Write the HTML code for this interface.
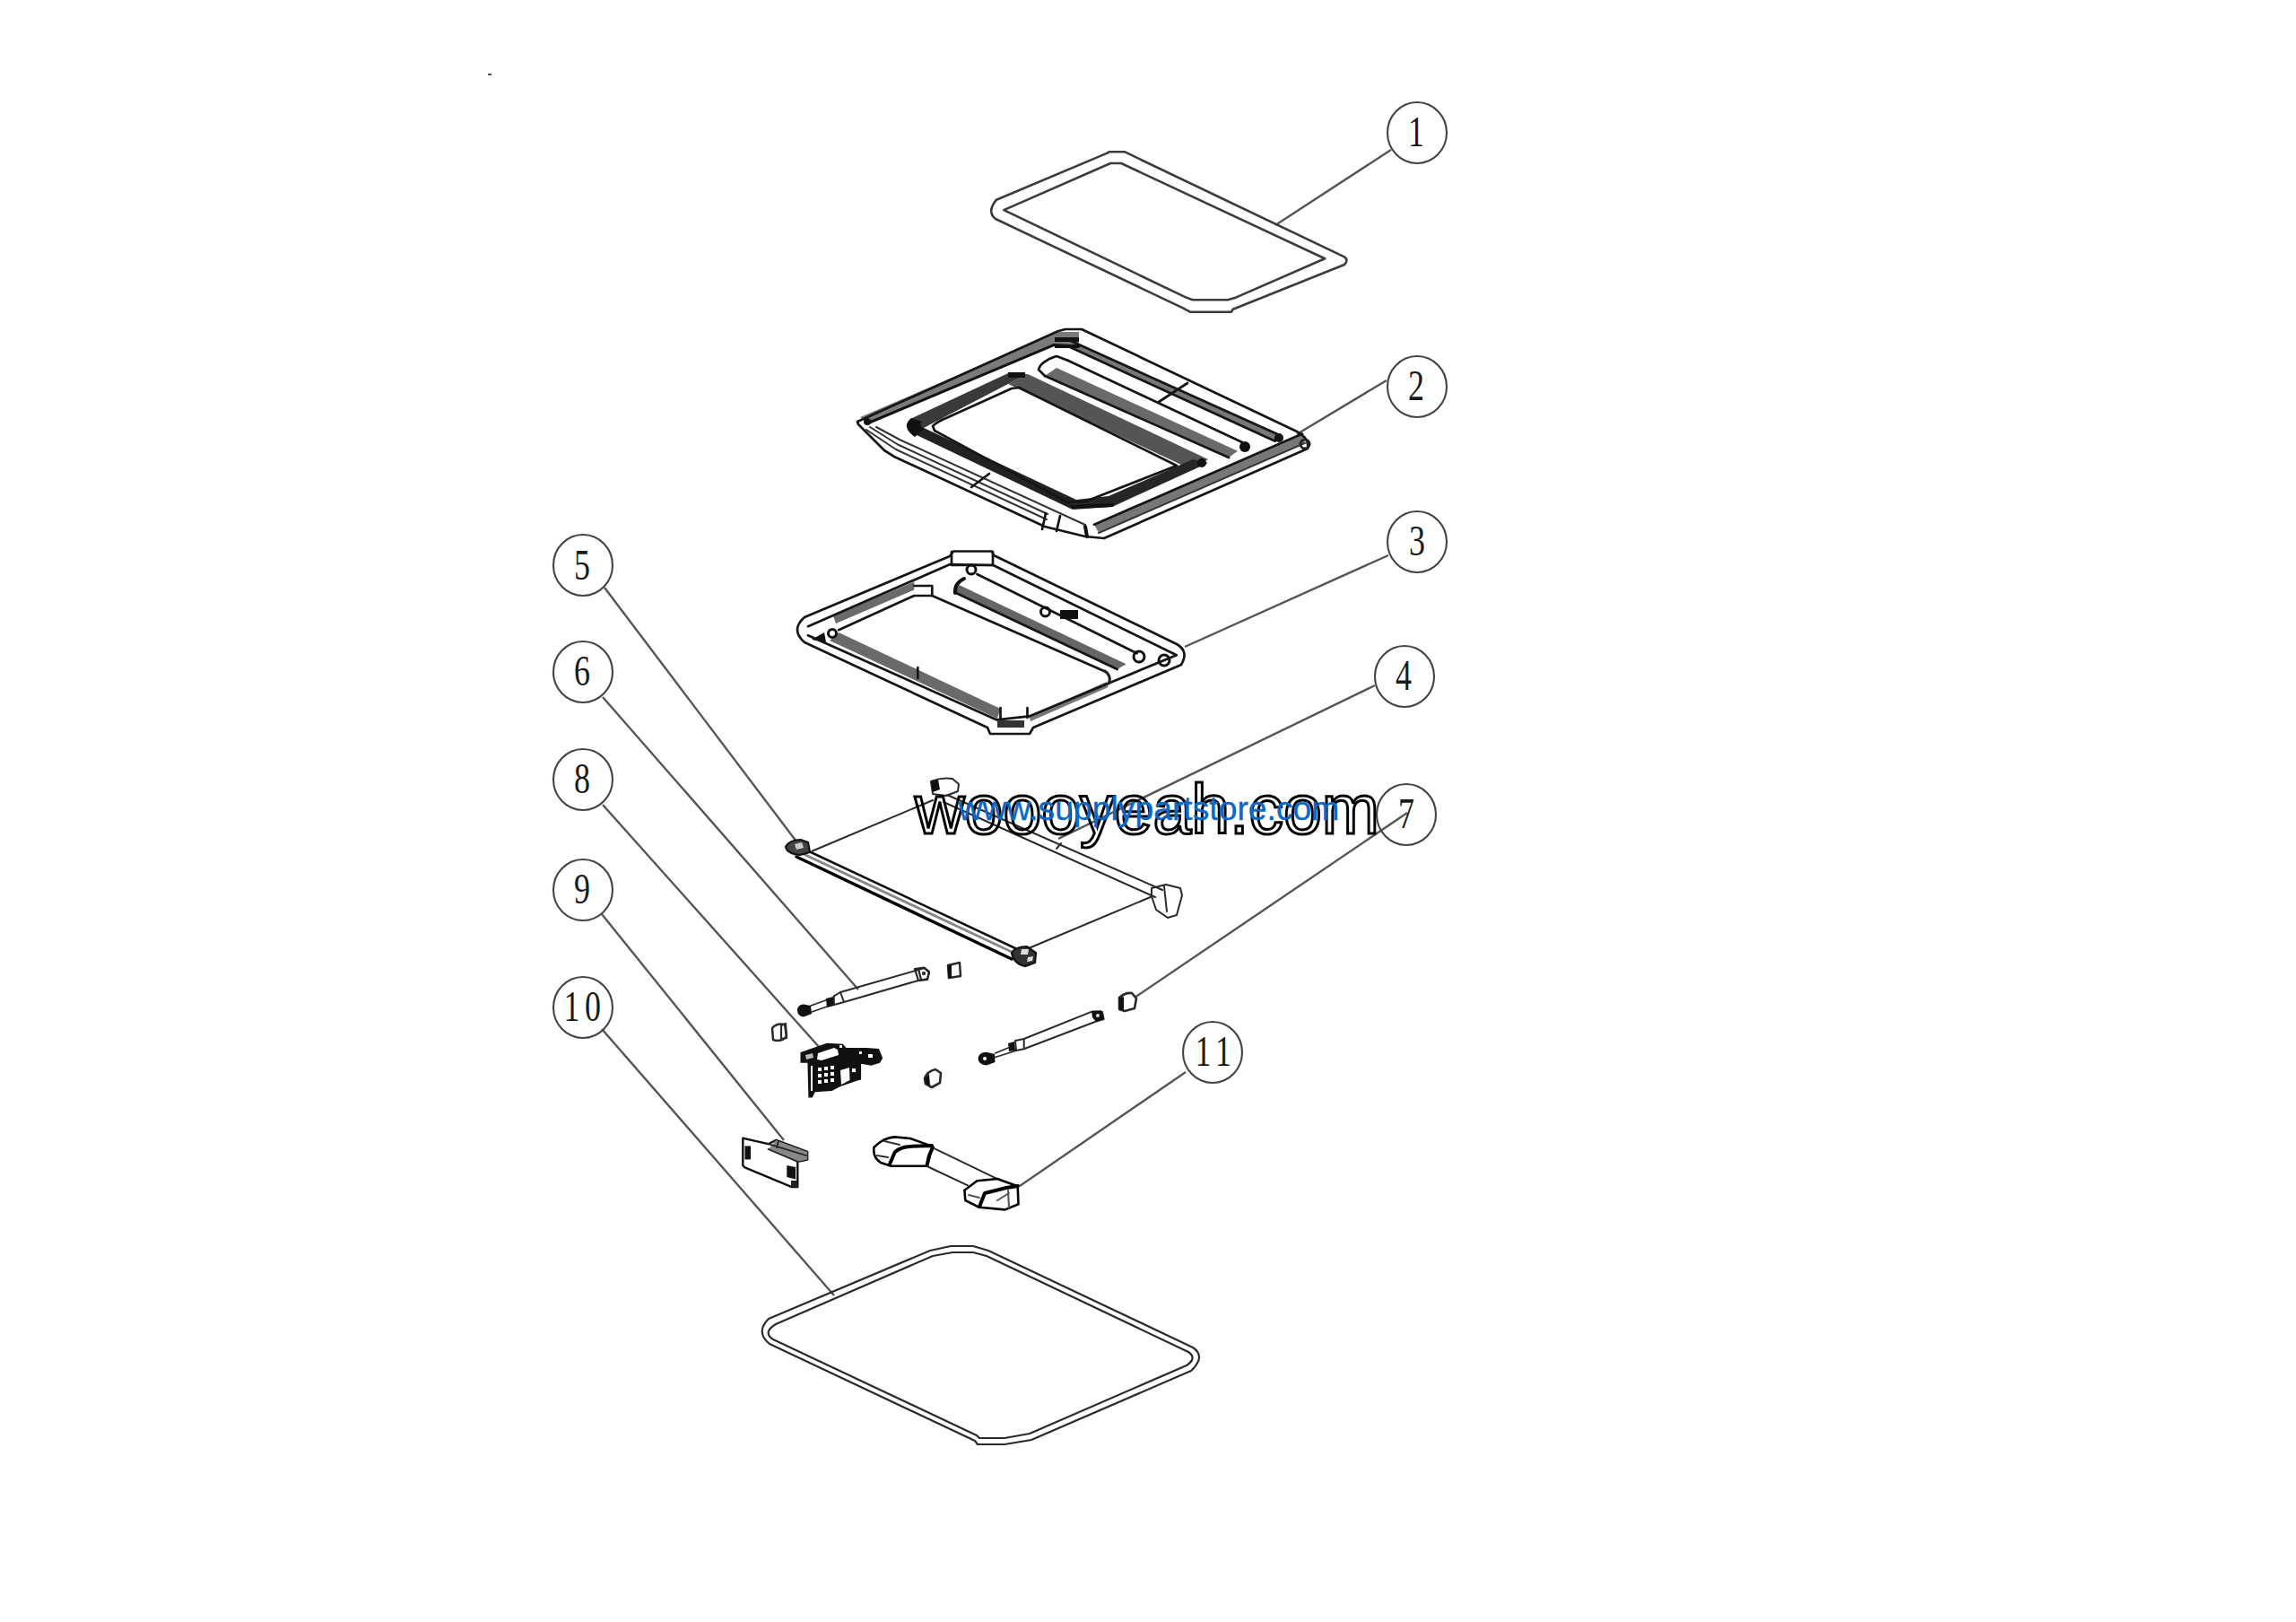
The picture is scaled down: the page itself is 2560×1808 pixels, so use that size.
<!DOCTYPE html>
<html><head><meta charset="utf-8"><title>Exploded parts diagram</title>
<style>
html,body{margin:0;padding:0;background:#fff;}
body{width:2560px;height:1808px;overflow:hidden;}
svg{display:block;}
.ln{fill:none;stroke:#2a2a2a;stroke-width:2.2;stroke-linejoin:round;stroke-linecap:round;}
.th{fill:none;stroke:#111;stroke-width:3;stroke-linejoin:round;stroke-linecap:round;}
.lead{fill:none;stroke:#555;stroke-width:2.4;}
.circ{fill:none;stroke:#444;stroke-width:2.1;}
.num{font-family:"Liberation Serif",serif;font-size:48px;fill:#1a1a1a;}
</style></head>
<body>
<svg width="2560" height="1808" viewBox="0 0 2560 1808" xmlns="http://www.w3.org/2000/svg">
<rect x="544" y="82" width="4" height="2" fill="#5a4a4a"/>

<!-- leader lines -->
<g class="lead">
<line x1="1551" y1="167" x2="1422" y2="251"/>
<line x1="1546" y1="424" x2="1446" y2="484"/>
<line x1="1548" y1="619" x2="1321" y2="721"/>
<line x1="1533" y1="764" x2="1180" y2="935"/>
<line x1="1569" y1="906" x2="1265" y2="1112"/>
<line x1="1322" y1="1195" x2="1137" y2="1322"/>
<line x1="674" y1="655" x2="888" y2="938"/>
<line x1="672" y1="777" x2="957" y2="1103"/>
<line x1="672" y1="897" x2="914" y2="1168"/>
<line x1="671" y1="1019" x2="874" y2="1271"/>
<line x1="671" y1="1147" x2="930" y2="1444"/>
</g>

<!-- balloons -->
<g class="circ">
<ellipse cx="1580" cy="148" rx="33" ry="34"/>
<ellipse cx="1580" cy="431" rx="33" ry="34"/>
<ellipse cx="1580" cy="604" rx="33" ry="34"/>
<ellipse cx="1566" cy="754" rx="33" ry="34"/>
<ellipse cx="1568" cy="908" rx="33" ry="34"/>
<ellipse cx="1352" cy="1173" rx="33" ry="34"/>
<ellipse cx="650" cy="630" rx="33" ry="34"/>
<ellipse cx="650" cy="749" rx="33" ry="34"/>
<ellipse cx="650" cy="869" rx="33" ry="34"/>
<ellipse cx="650" cy="992" rx="33" ry="34"/>
<ellipse cx="650" cy="1123" rx="33" ry="34"/>
</g>
<g class="num" text-anchor="middle">
<text transform="translate(1579,163) scale(0.75,1)">1</text>
<text transform="translate(1579,446) scale(0.75,1)">2</text>
<text transform="translate(1580,619) scale(0.75,1)">3</text>
<text transform="translate(1565,769) scale(0.75,1)">4</text>
<text transform="translate(1568,923) scale(0.75,1)">7</text>
<text transform="translate(1341.5,1188) scale(0.75,1)">1</text><text transform="translate(1364,1188) scale(0.75,1)">1</text>
<text transform="translate(649,646) scale(0.75,1)">5</text>
<text transform="translate(649,764) scale(0.75,1)">6</text>
<text transform="translate(649,884) scale(0.75,1)">8</text>
<text transform="translate(649,1007) scale(0.75,1)">9</text>
<text transform="translate(637.5,1138) scale(0.75,1)">1</text><text transform="translate(661,1138) scale(0.75,1)">0</text>
</g>

<!-- PARTS -->
<g id="parts">
<!-- part 1 gasket -->
<path class="ln" style="stroke:#3c3c3c;stroke-width:2.6" d="M1111,222.7 L1234.6,170.6 L1237,169.2 L1253.8,169.2 L1499,286.4 Q1504,290 1499,295 L1374.7,344.8 L1372.8,347.7 L1326.8,347.7 L1319,343.4 L1110,244 Q1100,236 1111,222.7 Z"/>
<path class="ln" style="stroke:#3c3c3c;stroke-width:2.6" d="M1119.3,234.1 L1238.2,182 L1250.1,182 L1477.2,288.3 L1378.5,331.4 L1369,334.3 L1329.7,334.3 L1322,331.4 Z"/>
<!-- part 2 frame -->
<g id="p2">
<!-- bands -->
<polygon points="1180,370 1203,370 1203,384 1175.5,384.4 967,472 959,465" fill="#7a7a7a"/>
<polygon points="1190,378.3 1427.8,485.6 1421.7,491.7 1190,385.6" fill="#777"/>
<polygon points="1220,584.7 1452,483.6 1455,493.9 1225,594.1" fill="#777"/>
<polygon points="1146,417 1347,512 1330,524 1124,428" fill="#555"/>
<polygon points="1146,417 1124,416 1015,467 1028,478 1124,428" fill="#3a3a3a"/>
<polygon points="1020,484 1196,568 1200,557 1028,476" fill="#222"/>
<polygon points="1196,568 1240,565 1347,516 1330,512 1236,553 1200,557" fill="#262626"/>
<polygon points="1190,401.5 1385,493 1380,502.7 1178,410" fill="#fff"/>
<polygon points="1178,410 1380,502.7 1370,510 1165,419" fill="#6a6a6a"/>
<g class="ln" style="stroke-width:2.7;stroke:#151515">
<path d="M956,470 L1180,369 L1188,367 L1206,367 L1446,481 Q1460,488 1458,500 L1231,600 L1210,598 L1165,587 L997,509 L986,502 L957,473 Z"/>
<polyline points="1190,378.3 1427.8,485.6"/>
<polyline points="1190,385.6 1421.7,491.7"/>
<polyline points="1220,584.7 1452,483.6"/>
<polyline points="1225,594.1 1455,493.9" style="stroke-width:2;stroke:#333"/>
<polyline points="966,479 999,501 1167,579" style="stroke-width:2;stroke:#333"/>
<polyline points="970,476 1001,495.5 1168,573" style="stroke-width:2;stroke:#333"/>
<polyline points="977,476 1003,490 1210,585" style="stroke-width:2;stroke:#333"/>
<path d="M1040,475 Q1045,470 1055,466 L1128,433 L1136,432 L1312,519 L1210.7,558.8 L1190,560 L1042,480 Z"/>
<polyline points="1190,401.5 1385,493"/>
<polyline points="1165,419 1370,510"/>
<path d="M1190,401.5 L1178,397 Q1160,403 1158,412 L1165,419"/>
<polyline points="1083,543 1103,528"/>
<polyline points="1292,448 1324,427"/>
<polyline points="1162,590 1166,572"/>
<polyline points="1178,592 1182,575"/>
</g>
<polyline class="th" style="stroke-width:3" points="967,472 1175.5,384.4 1203,386"/>
<path d="M1016,466 Q1004,476 1020,487 L1030,478 Q1024,474 1028,470 Z" fill="#111"/>
<path class="th" style="stroke:#111;stroke-width:4" d="M1196,565 L1240,563"/>
<rect x="1124" y="415" width="19" height="6" fill="#111"/>
<rect x="1176" y="376" width="27" height="5" fill="#111"/>
<rect x="1176" y="384" width="27" height="4" fill="#111"/>
<circle cx="1388" cy="498" r="6" fill="#111"/>
<circle cx="1426" cy="488" r="5" fill="#111"/>
<circle cx="1340" cy="516" r="5" fill="#111"/>
<circle cx="1455" cy="495" r="5" fill="none" stroke="#222" stroke-width="3"/>
<path class="th" style="stroke-width:4" d="M1210,587 L1212,598"/>
<circle cx="967" cy="470" r="4" fill="#111"/>
</g>
<!-- part 3 base frame -->
<g id="p3">
<polygon points="1019.3,648.5 929,686.5 932,695 1019.3,657.5" fill="#6a6a6a"/>
<polygon points="1069.3,652 1255.7,740.3 1245.7,746 1064,660" fill="#666"/>
<polygon points="935.1,705 1115.5,790 1112,801 925,714" fill="#6a6a6a"/>
<polygon points="1147.5,798.4 1233.6,760 1235.7,766 1149,804" fill="#777"/>
<polygon points="1200,722 1311.8,730 1301,720 1180,665" fill="#fff" opacity="0"/>
<g class="ln" style="stroke-width:2.7;stroke:#151515">
<path d="M897,688 L1059,620 L1063,614.5 L1106,614.5 L1108,619 L1312,718 Q1326,726 1317,741 L1152,811 L1148,818 L1104,818 L1101,811 L897,716 Q881,702 897,688 Z"/>
<polyline points="901,698.2 1059.3,629 1107.4,630 1311.8,730.2 1147.5,798.4 1111.5,802.4 901,708.2"/>
<polyline points="935.1,702.2 1019.3,664 1039.3,664 1231.6,748.3 Q1240,754 1235.7,760 L1145.5,789 L1115.5,789 L935.1,704.2"/>
<polyline points="1089.4,640 1267.7,728.2"/>
<polyline points="1064,660 1245.7,746"/>
<polyline points="1023.3,744 1023.3,756"/>
<path d="M1061,615 L1061,630 L1107,630 L1107,615"/>
<path d="M1019.3,653 L1039.3,653 L1039.3,664"/>
<path d="M1115.5,789 L1115.5,801 M1145.5,789 L1145.5,800"/>
</g>
<path class="th" style="stroke-width:4;stroke:#111" d="M1075,645 Q1064,650 1065,661"/>
<g fill="none" stroke="#111" stroke-width="3">
<circle cx="1083" cy="635" r="5"/>
<circle cx="1165.5" cy="682" r="5"/>
<circle cx="1270" cy="732" r="6"/>
<circle cx="1298" cy="736" r="6"/>
<circle cx="928" cy="706" r="4.5"/>
</g>
<rect x="1182" y="680" width="20" height="10" fill="#111"/>
<path d="M905,713 L919,705 L921,716 Z" fill="#111"/>
<rect x="1112" y="803" width="30" height="8" fill="#333"/>
<path class="th" style="stroke-width:3;stroke:#222" d="M1232,748 Q1240,754 1236,762"/>
</g>
<!-- part 4 rod frame -->
<g id="p4">
<g class="ln" style="stroke-width:2">
<polyline points="906,948.5 1040,892"/>
<polyline points="1056,886 1296,992"/>
<polyline points="1052,894 1288,1000"/>
<polyline points="1147,1057 1285,999"/>
</g>
<polyline class="th" style="stroke-width:2.5" points="902,949 1132,1057"/>
<polyline class="th" style="stroke-width:3.5;stroke:#000" points="888,955 1128,1069"/>
<polyline class="th" style="stroke-width:3;stroke:#888" points="896,952 1130,1062"/>
<path d="M876,944 Q880,936 893,936 L901,939 L903,950 L892,953 Q878,952 876,944 Z" fill="#444" stroke="#111" stroke-width="2.2"/><path d="M886,941 L894,939 L896,945 L888,947 Z" fill="#ccc"/>
<path d="M1128,1062 Q1132,1055 1145,1055 L1155,1062 L1154,1073 L1143,1077 Q1130,1074 1128,1062 Z" fill="#333" stroke="#111" stroke-width="2.2"/><path d="M1139,1058 L1147,1058 L1146,1064 L1138,1064 Z M1146,1067 L1152,1066 L1151,1071 L1145,1072 Z" fill="#ddd"/>
<path class="ln" style="stroke-width:2" d="M1038,871 Q1050,866 1062,868 L1069,874 L1068,882 L1055,887 L1040,885 Z"/>
<path d="M1038,871 L1046,869 L1048,880 L1040,883 Z" fill="#111"/>
<path class="ln" style="stroke-width:2" d="M1284,990 L1300,986 L1316,990 L1318,998 L1312,1020 L1302,1023 L1289,1014 L1284,999 Z M1298,988 L1301,1016"/>
<polyline class="ln" style="stroke-width:2" points="1178,946 1183,940"/>
</g>
<!-- part 5/6 struts and small parts -->
<g id="struts">
<path d="M889,1126 Q889,1120 896,1119.5 L904,1121 L905,1130 L896,1133.5 Q889,1133 889,1126 Z" fill="#111"/>
<polyline class="ln" style="stroke-width:1.8" points="904,1121 922,1114.5"/>
<polyline class="ln" style="stroke-width:1.8" points="905,1128 925,1121"/>
<path d="M921,1113 L929,1111 L930,1121 L922,1123 Z" fill="#111"/>
<path class="ln" style="stroke-width:2" d="M929.7,1110.3 L937,1106 L1031,1079 L1036,1083 L1034,1091 L1022,1093.5 L941,1117 L930,1120 Z M937,1106 L941,1117"/>
<path class="ln" style="stroke-width:2.2;stroke:#222" d="M1020,1080 L1030,1078.5 L1036,1084 L1034,1092 L1024,1093 Z M1024,1080 L1027,1092"/><circle cx="1030" cy="1085" r="2.2" fill="#333"/>
<path class="ln" style="stroke-width:2.5" d="M1057,1076 L1070,1073 L1071,1088 L1058,1090 Z"/>
<path d="M1057,1076 L1061,1075 L1061,1090 L1057,1090 Z" fill="#111"/>
<path class="ln" style="stroke-width:2.2" d="M871,1143 L876,1141 L877,1157 L871,1158 Z"/>
<path class="ln" style="stroke-width:2.5" d="M861,1146 Q866,1140 875,1142 L877,1155 Q872,1162 862,1159 Z"/>
<!-- second strut -->
<path d="M1090.5,1180 Q1091,1173 1100,1172.7 L1109,1175 L1109.5,1184 L1100,1187.4 Q1091,1187 1090.5,1180 Z" fill="#111"/>
<circle cx="1098" cy="1180" r="2" fill="#fff"/>
<polyline class="ln" style="stroke-width:1.8" points="1109.5,1174 1124.2,1168"/>
<polyline class="ln" style="stroke-width:1.8" points="1109.5,1178.5 1132,1171.5"/>
<path d="M1124,1163 L1131,1161 L1132,1171 L1125,1172 Z" fill="#111"/>
<path class="ln" style="stroke-width:2" d="M1132,1160 L1141.7,1158 L1218,1127.4 L1229,1128 L1230.6,1136 L1221.6,1138.7 L1141.7,1169.3 L1133,1171 Z M1141.7,1158 L1141.7,1169.3"/>
<path d="M1217,1127 L1228,1126.2 L1231,1136 L1222,1138.7 L1218,1134 Z" fill="#111"/><circle cx="1224" cy="1132" r="2" fill="#ddd"/>
<path class="ln" style="stroke-width:2.6" d="M1248,1112 Q1255,1106 1262,1107 L1267,1113 L1265,1124 L1254,1127 L1248,1125 Z"/>
<path d="M1248,1112 L1253,1111 L1253,1126 L1248,1125 Z" fill="#111"/>
<path class="ln" style="stroke-width:2.6" d="M1031,1202 Q1034,1194 1043,1192 L1049,1196 L1048,1207 L1039,1212 L1032,1208 Z"/>
<path d="M1031,1202 L1036,1197 L1037,1210 L1032,1208 Z" fill="#111"/>
</g>
<!-- part 8 latch -->
<g id="p8">
<path d="M892.5,1173 L922,1162.7 L940,1163.7 L943.4,1168 L966,1168 L980,1169 L984.2,1179.5 L981,1184.7 L971.6,1187.8 L960.1,1185.7 L960.1,1203.6 L955.9,1204.6 L937.1,1210.9 L927.6,1216.1 L908.8,1217.2 L905.6,1223.5 L901.4,1223.5 L900.4,1184.7 L892.5,1184.7 Z" fill="#111"/>
<path d="M912,1174 L930,1168 L934,1170 L935,1176 L916,1182 L911,1181 Z" fill="#fff"/>
<path d="M898,1176 L906,1174 L907,1179 L899,1181 Z" fill="#bbb"/>
<path d="M937,1193 L947,1190 L947.5,1204 L938,1209 Z" fill="#fff"/>
<g fill="#fff">
<rect x="912" y="1190" width="4" height="4"/><rect x="919" y="1189" width="4" height="4"/><rect x="926" y="1188" width="4" height="4"/>
<rect x="912" y="1197" width="4" height="4"/><rect x="919" y="1196" width="4" height="4"/><rect x="926" y="1195" width="4" height="4"/>
<rect x="912" y="1204" width="4" height="4"/><rect x="919" y="1203" width="4" height="4"/><rect x="926" y="1202" width="4" height="4"/>
<rect x="904" y="1188" width="2" height="28"/>
<rect x="950" y="1191" width="4" height="4"/>
<rect x="968" y="1175" width="5" height="4"/>
<rect x="958" y="1172" width="3" height="3"/>
<rect x="936" y="1165" width="3" height="3"/>
</g>
</g>
<!-- part 9 plate -->
<g id="p9">
<path class="ln" style="stroke-width:2.4;stroke:#111" d="M828.3,1268.7 L856.6,1275.2 L865.3,1270.8 L900.2,1283.9 L900.2,1292.6 L889.3,1294.8 L889.3,1323.1 L882.8,1323.1 L830.5,1301.3 L828.3,1299 Z"/>
<polygon points="865.3,1271 900.2,1284 900.2,1292.6 889.3,1294.8 856.6,1281" fill="#888"/>
<g class="ln" style="stroke-width:1.8;stroke:#222">
<polyline points="856.6,1275.2 899,1288"/>
<polyline points="856.6,1281 889.3,1294.8"/>
<polyline points="868,1272 866,1279 M878,1276 876,1283"/>
</g>
<rect x="830.5" y="1277.4" width="6.5" height="15" fill="#111"/>
<path d="M877.3,1299 L887.1,1301 L887.1,1314.4 L877.3,1312 Z" fill="#111"/>
<rect x="882" y="1316" width="7" height="7" fill="#222"/>
</g>
<!-- part 11 handle -->
<g id="p11">
<path class="ln" style="stroke-width:2.6;stroke:#000" d="M974.4,1279 Q985,1268 998,1267.4 L1015,1269 L1039.7,1277.9 L1033.6,1299.7 L993.6,1299.7 L982,1296 Q973,1290 974.4,1279 Z"/>
<path class="ln" style="stroke-width:4;stroke:#000" d="M991.8,1298 L997.9,1284 Q1005,1278 1014.5,1277.9 L1039,1277 M1033.6,1299 L1036,1288 L1040,1279"/>
<path class="ln" style="stroke-width:2;stroke:#333" d="M986,1272 L1003,1276 M978,1288 L990,1290"/>
<polyline class="ln" style="stroke-width:2" points="1040.6,1279.6 1111,1313.6"/>
<polyline class="ln" style="stroke-width:2" points="1033.6,1300 1079,1321.4"/>
<path class="ln" style="stroke-width:2.6;stroke:#000" d="M1075.4,1326.7 L1089.4,1316.2 L1112,1314 L1134.7,1322.3 L1135.5,1342.3 L1120.7,1348.4 L1092,1345.8 L1076.3,1338 Z"/>
<path class="ln" style="stroke-width:4;stroke:#000" d="M1092,1345 L1098,1330 L1122,1324 L1135,1322"/>
<path class="ln" style="stroke-width:2;stroke:#555" d="M1112,1338 L1125,1330 M1124,1327 L1125,1346 M1080,1332 L1092,1335"/>
</g>
<!-- part 10 gasket -->
<path class="ln" d="M857,1470 L1037,1394 L1060,1389 L1085,1389 L1102,1394 L1330,1502 Q1345,1512 1328,1528 L1150,1605 L1120,1610 L1090,1610 L1087,1606 L858,1498 Q842,1485 857,1470 Z"/>
<path class="ln" d="M865,1476 L1040,1400 L1062,1396 L1085,1396 L1100,1400 L1325,1507 Q1335,1514 1323,1522 L1148,1598 L1120,1603 L1092,1603 L1089,1600 L862,1493 Q850,1485 865,1476 Z"/>
</g>

<!-- watermark -->
<text x="1020" y="928.5" font-family="Liberation Sans, sans-serif" font-size="77" fill="none" stroke="#000" stroke-width="3">woooyeah.com</text>
<text x="1068.5" y="914" font-family="Liberation Sans, sans-serif" font-size="37.3" fill="#0a68c6" stroke="#0a68c6" stroke-width="0.35">www.supplypartstore.com</text>
</svg>
</body></html>
